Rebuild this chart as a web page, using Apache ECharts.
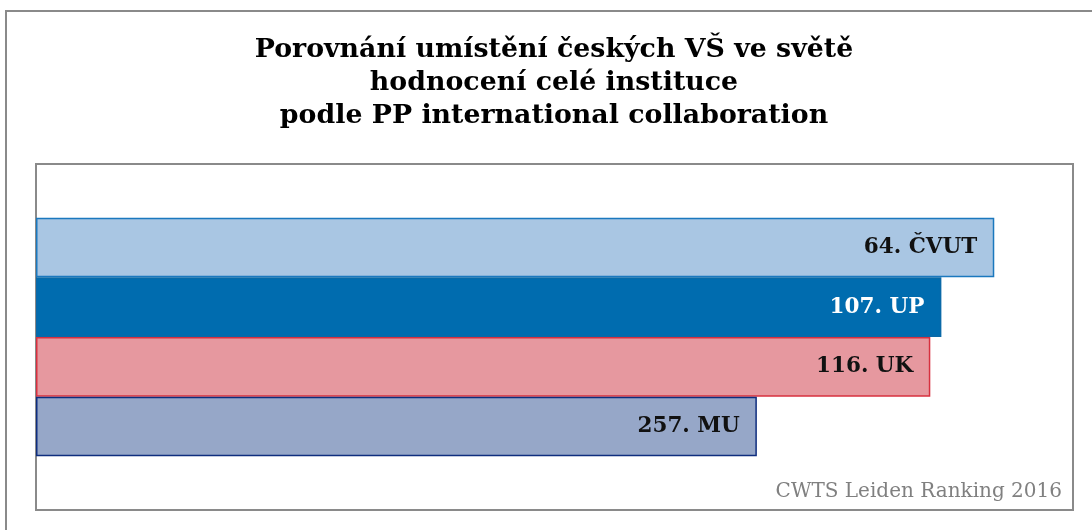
<!DOCTYPE html>
<html><head><meta charset="utf-8">
<script src="https://cdn.jsdelivr.net/npm/echarts@6/dist/echarts.min.js"></script>
<style>html,body{margin:0;padding:0;background:#fff}#c{width:1092px;height:530px}</style>
</head><body><div id="c"></div>
<script>
const titleLines = ['Porovnání umístění českých VŠ ve světě', 'hodnocení celé instituce', 'podle PP international collaboration'];
const schools = ['ČVUT', 'UP', 'UK', 'MU'];
const ranks = [64, 107, 116, 257];
const scores = [779, 736, 727, 586];
const axisMax = 843;
const fills = ['#A9C6E3', '#006CAF', '#E6989F', '#96A7C8'];
const borders = ['#1B78BE', '#0A69A8', '#D7303F', '#0E2D7E'];
const labelColors = ['#111', '#fff', '#111', '#111'];
const sourceText = 'CWTS Leiden Ranking 2016';
const serif = '"DejaVu Serif", "Liberation Serif", serif';

const chart = echarts.init(document.getElementById('c'));
chart.setOption({
  animation: false,
  title: {
    text: titleLines.join('\n'), left: 549, top: 29, textAlign: 'center',
    textStyle: { fontFamily: serif, fontWeight: 'bold', fontSize: 26.8, lineHeight: 33, color: '#000', align: 'center' }
  },
  grid: { left: 36, right: 19, top: 164, bottom: 20, show: true, borderColor: '#8a8a8a', borderWidth: 2, backgroundColor: '#fff' },
  xAxis: { type: 'value', min: 0, max: axisMax, show: false },
  yAxis: { type: 'category', data: [''], inverse: true, show: false },
  series: schools.map((s, i) => ({
    type: 'bar', name: s, data: [scores[i]],
    barGap: '0%', barCategoryGap: '31%',
    itemStyle: { color: fills[i], borderColor: borders[i], borderWidth: 1.5 },
    label: {
      show: true, position: 'insideRight', distance: 17,
      formatter: () => ranks[i] + '. ' + s,
      fontFamily: serif, fontWeight: 'bold', fontSize: 21.5, color: labelColors[i]
    }
  })),
  graphic: [
    { type: 'rect', shape: { x: 6, y: 11, width: 1100, height: 540 }, style: { fill: 'none', stroke: '#8a8a8a', lineWidth: 2 }, silent: true },
    { type: 'text', right: 30, top: 482, style: { text: sourceText, font: '20px ' + serif, fill: '#808080' } }
  ]
});
</script></body></html>
